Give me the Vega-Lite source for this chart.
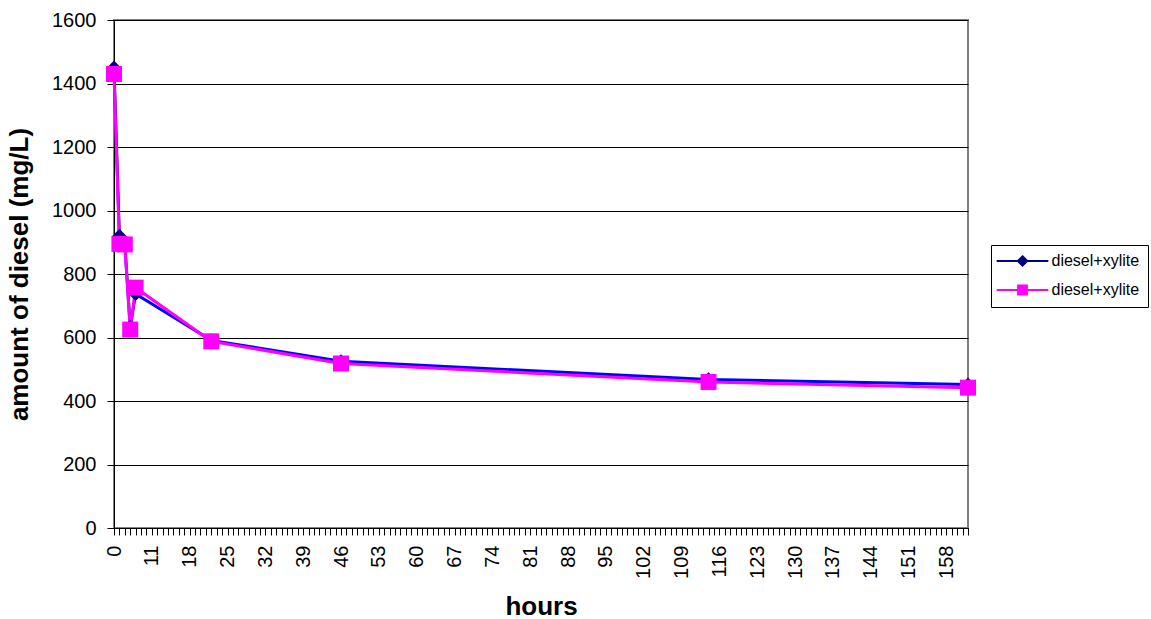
{
  "$schema": "https://vega.github.io/schema/vega-lite/v6.json",
  "width": 854,
  "height": 508,
  "autosize": {"type": "none"},
  "padding": {"left": 114, "top": 20, "right": 183, "bottom": 91},
  "background": "white",
  "config": {
    "font": "Liberation Sans",
    "view": {"stroke": "#808080", "strokeWidth": 2},
    "axis": {"labelColor": "black", "titleColor": "black", "tickColor": "black", "domainColor": "black", "domainWidth": 1, "tickWidth": 1},
    "legend": {
      "orient": "none",
      "legendX": 877,
      "legendY": 225,
      "strokeColor": "black",
      "fillColor": "white",
      "padding": 8,
      "labelFontSize": 16,
      "labelColor": "black",
      "labelFont": "Liberation Sans",
      "rowPadding": 11,
      "symbolOffset": 15.5,
      "labelOffset": 21,
      "symbolSize": 121,
      "symbolStrokeWidth": 2,
      "symbolOpacity": 1
    }
  },
  "data": {
    "values": [
      {"series": "diesel+xylite (1)", "hours": 0, "diesel": 1450},
      {"series": "diesel+xylite (1)", "hours": 1, "diesel": 920},
      {"series": "diesel+xylite (1)", "hours": 2, "diesel": 895},
      {"series": "diesel+xylite (1)", "hours": 3, "diesel": 634},
      {"series": "diesel+xylite (1)", "hours": 4, "diesel": 737},
      {"series": "diesel+xylite (1)", "hours": 22, "diesel": 591},
      {"series": "diesel+xylite (1)", "hours": 46, "diesel": 525},
      {"series": "diesel+xylite (1)", "hours": 114, "diesel": 468},
      {"series": "diesel+xylite (1)", "hours": 162, "diesel": 452},
      {"series": "diesel+xylite (2)", "hours": 0, "diesel": 1430},
      {"series": "diesel+xylite (2)", "hours": 1, "diesel": 895},
      {"series": "diesel+xylite (2)", "hours": 2, "diesel": 893},
      {"series": "diesel+xylite (2)", "hours": 3, "diesel": 625},
      {"series": "diesel+xylite (2)", "hours": 4, "diesel": 757},
      {"series": "diesel+xylite (2)", "hours": 22, "diesel": 588},
      {"series": "diesel+xylite (2)", "hours": 46, "diesel": 518},
      {"series": "diesel+xylite (2)", "hours": 114, "diesel": 460},
      {"series": "diesel+xylite (2)", "hours": 162, "diesel": 442}
    ]
  },
  "encoding": {
    "x": {
      "field": "hours",
      "type": "ordinal",
      "scale": {
        "type": "point",
        "padding": 0,
        "domain": [0,1,2,3,4,5,6,11,12,13,14,15,16,17,18,19,20,21,22,23,24,25,26,27,28,29,30,31,32,33,34,35,36,37,38,39,40,41,42,43,44,45,46,47,48,49,50,51,52,53,54,55,56,57,58,59,60,61,62,63,64,65,66,67,68,69,70,71,72,73,74,75,76,77,78,79,80,81,82,83,84,85,86,87,88,89,90,91,92,93,94,95,96,97,98,99,100,101,102,103,104,105,106,107,108,109,110,111,112,113,114,115,116,117,118,119,120,121,122,123,124,125,126,127,128,129,130,131,132,133,134,135,136,137,138,139,140,141,142,143,144,145,146,147,148,149,150,151,152,153,154,155,156,157,158,159,160,161,162]
      },
      "axis": {
        "title": "hours",
        "titleFontSize": 26,
        "titleFontWeight": "bold",
        "titleX": 427,
        "titleY": 86,
        "titleAlign": "center",
        "titleBaseline": "alphabetic",
        "labelAngle": 270,
        "labelFontSize": 20,
        "labelPadding": 10,
        "labelOverlap": false,
        "labelExpr": "datum.value == 0 || (datum.value >= 11 && (datum.value - 11) % 7 == 0) ? datum.label : ''",
        "tickSize": 7,
        "grid": false
      }
    },
    "y": {
      "field": "diesel",
      "type": "quantitative",
      "scale": {"domain": [0, 1600], "nice": false},
      "axis": {
        "title": "amount of diesel (mg/L)",
        "values": [0, 200, 400, 600, 800, 1000, 1200, 1400, 1600],
        "format": "d",
        "titleFontSize": 26,
        "titleFontWeight": "bold",
        "titleAngle": 270,
        "titleX": -87,
        "titleY": 254,
        "titleAlign": "center",
        "titleBaseline": "alphabetic",
        "labelFontSize": 20,
        "labelPadding": 11,
        "tickSize": 7,
        "grid": true,
        "gridColor": "black",
        "gridWidth": 1,
        "gridOpacity": 1
      }
    }
  },
  "layer": [
    {
      "transform": [{"filter": "datum.series == 'diesel+xylite (1)'"}],
      "mark": {"type": "line", "color": "#0000FF", "strokeWidth": 3, "interpolate": "linear"}
    },
    {
      "transform": [{"filter": "datum.series == 'diesel+xylite (2)'"}],
      "mark": {"type": "line", "color": "#FF00FF", "strokeWidth": 3, "interpolate": "linear"}
    },
    {
      "transform": [{"filter": "datum.series == 'diesel+xylite (1)'"}],
      "mark": {"type": "point", "shape": "diamond", "filled": true, "size": 200, "opacity": 1, "color": "#000080"}
    },
    {
      "transform": [{"filter": "datum.series == 'diesel+xylite (2)'"}],
      "mark": {"type": "point", "shape": "square", "filled": true, "size": 256, "opacity": 1, "color": "#FF00FF"}
    },
    {
      "transform": [{"filter": "datum.diesel < 0"}],
      "mark": {"type": "point", "filled": true, "size": 121, "strokeWidth": 2, "opacity": 1},
      "encoding": {
        "color": {
          "field": "series",
          "type": "nominal",
          "scale": {"domain": ["diesel+xylite (1)", "diesel+xylite (2)"], "range": ["#000080", "#FF00FF"]},
          "legend": {"title": null, "labelExpr": "'diesel+xylite'"}
        },
        "stroke": {
          "field": "series",
          "type": "nominal",
          "scale": {"domain": ["diesel+xylite (1)", "diesel+xylite (2)"], "range": ["#000080", "#FF00FF"]},
          "legend": {"title": null, "labelExpr": "'diesel+xylite'"}
        },
        "shape": {
          "field": "series",
          "type": "nominal",
          "scale": {
            "domain": ["diesel+xylite (1)", "diesel+xylite (2)"],
            "range": ["M-4.7,0L4.7,0M0,-0.85L0.85,0L0,0.85L-0.85,0Z", "M-4.7,0L4.7,0M-0.8,-0.8L0.8,-0.8L0.8,0.8L-0.8,0.8Z"]
          },
          "legend": {"title": null, "labelExpr": "'diesel+xylite'"}
        }
      }
    }
  ]
}
